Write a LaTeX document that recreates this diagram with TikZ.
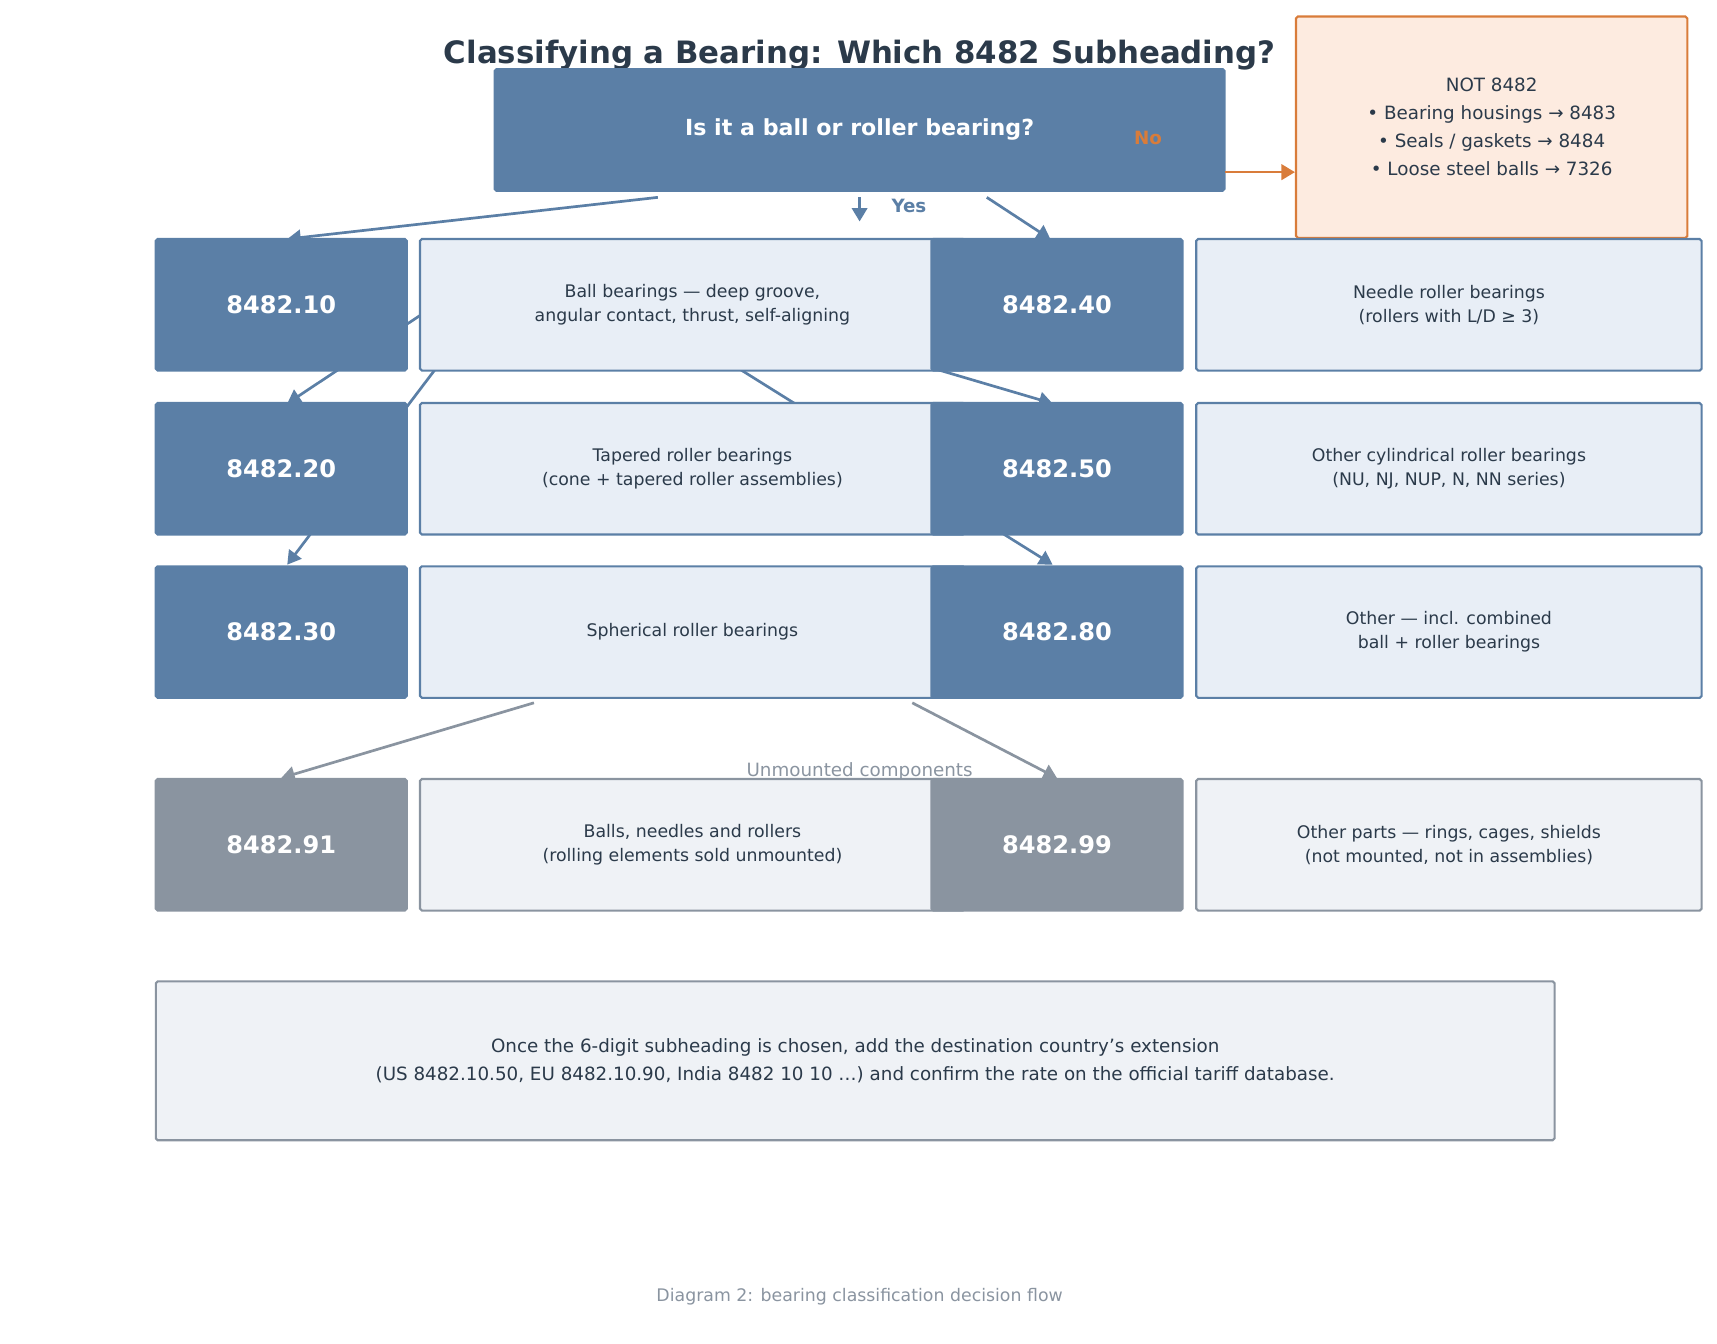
\documentclass[tikz,border=0pt]{standalone}
\usepackage{fontspec}
\setmainfont{DejaVu Sans}
\usetikzlibrary{arrows.meta}
\definecolor{cBlue}{HTML}{5B7FA6}
\definecolor{cBlueFill}{HTML}{E8EEF6}
\definecolor{cGray}{HTML}{8A94A0}
\definecolor{cGrayFill}{HTML}{EFF2F6}
\definecolor{cInk}{HTML}{2B3A4A}
\definecolor{cOrange}{HTML}{D97C3A}
\definecolor{cPeach}{HTML}{FDEBE0}
\tikzset{
    box/.style={draw,rectangle,inner sep=0pt,rounded corners=1pt,line width=1.1pt,align=center},
    codeBox/.style={box,fill=cBlue,draw=cBlue,text=white,font=\fontsize{12.5}{15}\selectfont\bfseries,minimum width=4.58cm,minimum height=2.4cm},
    descBox/.style={box,fill=cBlueFill,draw=cBlue,text=cInk,font=\fontsize{9}{12.5}\selectfont,minimum height=2.4cm},
    partBox/.style={codeBox,fill=cGray,draw=cGray},
    partDesc/.style={descBox,fill=cGrayFill,draw=cGray},
    flow/.style={cBlue,line width=1.4pt,-{Triangle[length=7pt,width=8pt]}},
    partFlow/.style={flow,draw=cGray}
}
\begin{document}
\begin{tikzpicture}[x=0.02cm,y=-0.02cm]
    \useasboundingbox (0,0) rectangle (1566,1225);
    % hidden branch lines first
    \coordinate (cTenFrom) at (600,180);
    \coordinate (cFortyFrom) at (900,180);
    \coordinate (cTwentyFrom) at (440,250);
    \coordinate (cThirtyFrom) at (440,280);
    \coordinate (cEightyFrom) at (640,315);
    \coordinate (cFiftyFrom) at (780,315);
    \coordinate (cTenTo) at (262,218);
    \coordinate (cTwentyTo) at (262,368);
    \coordinate (cThirtyTo) at (262,515);
    \coordinate (cFortyTo) at (958,218);
    \coordinate (cFiftyTo) at (960,368);
    \coordinate (cEightyTo) at (960,515);
    \draw[flow] (cTenFrom) -- (cTenTo);
    \draw[flow] (cFortyFrom) -- (cFortyTo);
    \draw[flow] (cTwentyFrom) -- (cTwentyTo);
    \draw[flow] (cThirtyFrom) -- (cThirtyTo);
    \draw[flow] (cEightyFrom) -- (cEightyTo);
    \draw[flow] (cFiftyFrom) -- (cFiftyTo);

    \node[text=cInk,font=\fontsize{16}{19}\selectfont\bfseries] (title) at (784,50) {Classifying a Bearing: Which 8482 Subheading?};
    \node[box,fill=cPeach,draw=cOrange,text=cInk,font=\fontsize{9.5}{14.5}\selectfont,minimum width=7.14cm,minimum height=4.04cm] (notBox) at (1360.5,116)
        {NOT 8482\\ • Bearing housings → 8483\\ • Seals / gaskets → 8484\\ • Loose steel balls → 7326};
    \node[box,fill=cBlue,draw=cBlue,text=white,font=\fontsize{11.5}{14}\selectfont\bfseries,minimum width=13.32cm,minimum height=2.22cm] (question) at (784,118.5) {Is it a ball or roller bearing?};
    \node[text=cOrange,font=\fontsize{9.5}{11}\selectfont\bfseries] (noLbl) at (1047,126) {No};
    \coordinate (cNoFrom) at (1117,157);
    \draw[flow,cOrange] (cNoFrom) -- (notBox.west |- cNoFrom);
    \coordinate (cYesFrom) at (784,180);
    \coordinate (cYesTo) at (784,202);
    \draw[flow] (cYesFrom) -- (cYesTo);
    \node[text=cBlue,font=\fontsize{9.5}{11}\selectfont\bfseries] (yesLbl) at (829,188) {Yes};

    % subheading rows
    \foreach \y/\codeA/\descA/\codeB/\descB/\n in {
        278/8482.10/{Ball bearings — deep groove,\\angular contact, thrust, self-aligning}/8482.40/{Needle roller bearings\\(rollers with L/D ≥ 3)}/a,
        427.5/8482.20/{Tapered roller bearings\\(cone + tapered roller assemblies)}/8482.50/{Other cylindrical roller bearings\\(NU, NJ, NUP, N, NN series)}/b,
        576.5/8482.30/{Spherical roller bearings}/8482.80/{Other — incl. combined\\ball + roller bearings}/c}
    {
        \node[descBox,minimum width=9.94cm] (descL\n) at (631.5,\y) {\descA};
        \node[codeBox] (codeL\n) at (256.5,\y) {\codeA};
        \node[descBox,minimum width=9.22cm] (descR\n) at (1321.5,\y) {\descB};
        \node[codeBox] (codeR\n) at (964,\y) {\codeB};
    };

    % unmounted parts
    \node[partDesc,minimum width=9.94cm] (descLd) at (631.5,770.5) {Balls, needles and rollers\\(rolling elements sold unmounted)};
    \node[partBox] (codeLd) at (256.5,770.5) {8482.91};
    \node[partDesc,minimum width=9.22cm] (descRd) at (1321.5,770.5) {Other parts — rings, cages, shields\\(not mounted, not in assemblies)};
    \node[partBox] (codeRd) at (964,770.5) {8482.99};
    \coordinate (cPartL) at (487,641);
    \coordinate (cPartR) at (832,641);
    \draw[partFlow] (cPartL) -- (codeLd.north);
    \draw[partFlow] (cPartR) -- (codeRd.north);
    \node[text=cGray,font=\fontsize{9.5}{11}\selectfont] (partLbl) at (784,704) {Unmounted components};

    \node[box,fill=cGrayFill,draw=cGray,text=cInk,font=\fontsize{9.5}{14.5}\selectfont,minimum width=25.52cm,minimum height=2.9cm] (note) at (780,967.5)
        {Once the 6-digit subheading is chosen, add the destination country's extension\\(US 8482.10.50, EU 8482.10.90, India 8482 10 10 …) and confirm the rate on the official tariff database.};
    \node[text=cGray,font=\fontsize{9}{11}\selectfont] (caption) at (784,1183) {Diagram 2: bearing classification decision flow};
\end{tikzpicture}
\end{document}
